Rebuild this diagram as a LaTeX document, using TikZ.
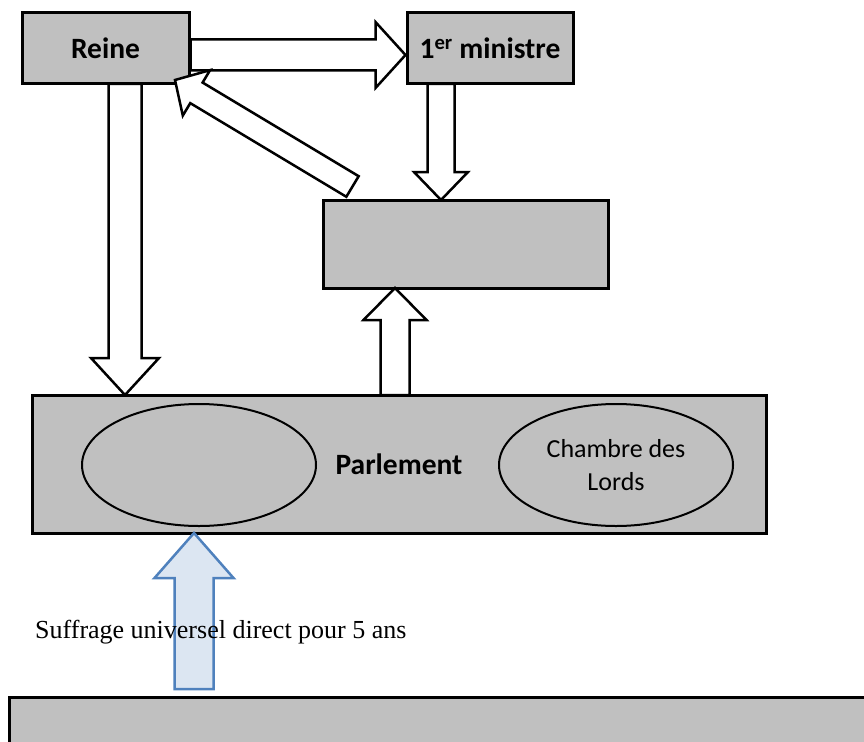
\documentclass[tikz,border=0pt]{standalone}
\usepackage{fontspec}
\setmainfont{Carlito}
\newfontfamily\timesfont{Liberation Serif}
\usetikzlibrary{calc,shapes.geometric}
\definecolor{boxgray}{RGB}{192,192,192}
\definecolor{bluefill}{RGB}{220,230,242}
\definecolor{blueline}{RGB}{79,129,189}
\newcommand{\blockarrow}[6]{%
  \coordinate (ba-h) at ($(#2)!#5!(#1)$);
  \draw[#6] ($(#1)!#3!90:(#2)$) -- ($(ba-h)!#3!90:(#2)$) -- ($(ba-h)!#4!90:(#2)$) -- (#2)
    -- ($(ba-h)!#4!-90:(#2)$) -- ($(ba-h)!#3!-90:(#2)$) -- ($(#1)!#3!-90:(#2)$) -- cycle;
}
\tikzset{
  graybox/.style={draw=black, line width=3pt, fill=boxgray, rectangle, inner sep=0pt},
  chamber/.style={draw=black, line width=2pt, fill=boxgray, ellipse, inner sep=0pt,
    minimum width=234pt, minimum height=122pt, align=center},
  bigtext/.style={font=\fontsize{26}{33}\selectfont},
  boldtext/.style={font=\fontsize{29.5}{35}\selectfont\bfseries},
  whitearrow/.style={draw=black, line width=2.5pt, fill=white, line join=miter},
  bluearrow/.style={draw=blueline, line width=2.5pt, fill=bluefill, line join=miter},
}
\begin{document}
\begin{tikzpicture}[x=1pt, y=-1pt]
\useasboundingbox (0,0) rectangle (864,741);
\clip (0,0) rectangle (864,741);
% boxes
\node[graybox, boldtext, minimum width=167pt, minimum height=71pt] (reine) at (105.5,48.5) {Reine};
\node[graybox, boldtext, minimum width=166pt, minimum height=71pt] (ministre) at (490,48.5) {1\textsuperscript{er} ministre};
\node[graybox, minimum width=285pt, minimum height=88pt] (mid) at (465.5,244) {};
\node[graybox, boldtext, minimum width=734pt, minimum height=138pt] (parl) at (399,464) {Parlement};
\node[chamber] (communes) at (199,465) {};
\node[chamber, bigtext] (lords) at (616,465) {Chambre des\\Lords};
\node[graybox, minimum width=880pt, minimum height=80pt, anchor=north west] (peuple) at (8,696) {};
% arrow end points
\coordinate (a1s) at ($(reine.east)+(0,6.5)$);
\coordinate (a1e) at ($(ministre.west)+(0,6.5)$);
\coordinate (a2s) at (441,84);
\coordinate (a2e) at (441,200);
\coordinate (a3s) at (352.5,186.5);
\coordinate (a3e) at (175,80);
\coordinate (a4s) at (125,84);
\coordinate (a4e) at (125,395);
\coordinate (a5s) at (395,395);
\coordinate (a5e) at (395,288);
\coordinate (a6s) at (194,689);
\coordinate (a6e) at (194,533);
% arrows
\blockarrow{a1s}{a1e}{15.5pt}{33pt}{30pt}{whitearrow}
\blockarrow{a2s}{a2e}{13.5pt}{27pt}{28pt}{whitearrow}
\blockarrow{a3s}{a3e}{12pt}{26.5pt}{25pt}{whitearrow}
\blockarrow{a4s}{a4e}{16.5pt}{34pt}{37pt}{whitearrow}
\blockarrow{a5s}{a5e}{14.5pt}{31.5pt}{32pt}{whitearrow}
\blockarrow{a6s}{a6e}{19.5pt}{39.5pt}{45pt}{bluearrow}
% label
\node[anchor=base west, inner sep=0pt, font=\timesfont\fontsize{26}{30}\selectfont] (suffrage) at (35,638) {Suffrage universel direct pour 5 ans};
\end{tikzpicture}
\end{document}
